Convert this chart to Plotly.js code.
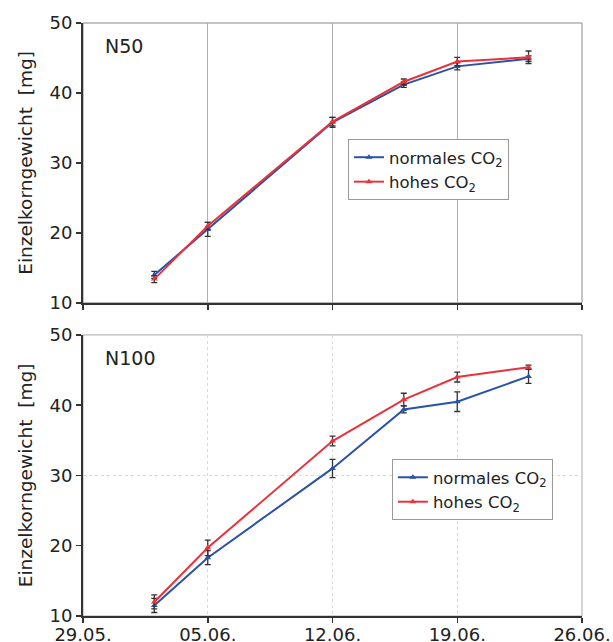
<!DOCTYPE html>
<html>
<head>
<meta charset="utf-8">
<script src="https://cdn.plot.ly/plotly-3.0.1.min.js"></script>
<style>html,body{margin:0;padding:0;background:#fff;}#chart{width:613px;height:642px;}</style>
</head>
<body>
<div id="chart"></div>
<script>
// Sampling dates
const dates = ['2010-06-02', '2010-06-05', '2010-06-12', '2010-06-16', '2010-06-19', '2010-06-23'];
const xTickVals = ['2010-05-29', '2010-06-05', '2010-06-12', '2010-06-19', '2010-06-26'];

// N50 panel
const n50Normal = [14.0, 20.5, 35.8, 41.2, 43.8, 44.9];
const n50NormalErr = [0.5, 1.0, 0.7, 0.4, 0.5, 0.4];
const n50High = [13.4, 21.0, 35.9, 41.6, 44.5, 45.1];
const n50HighErr = [0.5, 0.5, 0.6, 0.4, 0.6, 0.9];

// N100 panel
const n100Normal = [11.5, 18.3, 31.0, 39.4, 40.5, 44.1];
const n100NormalErr = [1.0, 1.0, 1.3, 0.5, 1.4, 1.0];
const n100High = [12.0, 19.7, 34.9, 40.8, 44.0, 45.4];
const n100HighErr = [1.0, 1.1, 0.7, 0.9, 0.7, 0.3];

const seriesNames = ['normales CO<sub>2</sub>', 'hohes CO<sub>2</sub>'];
const panelLabels = ['N50', 'N100'];
const yTitle = 'Einzelkorngewicht  [mg]';

const BLUE = '#2a52a6';
const RED = '#e8323c';
const FONT = 'DejaVu Sans, Verdana, sans-serif';

function tr(y, err, name, color, xa, ya, leg) {
  return {
    x: dates, y: y, name: name, type: 'scatter', mode: 'lines+markers',
    xaxis: xa, yaxis: ya, legend: leg,
    line: {color: color, width: 2},
    marker: {color: color, size: 6, symbol: 'triangle-up'},
    error_y: {type: 'data', array: err, visible: true, color: '#333', thickness: 1.3, width: 3},
    hoverinfo: 'skip'
  };
}

const data = [
  tr(n50Normal, n50NormalErr, seriesNames[0], BLUE, 'x', 'y', 'legend'),
  tr(n50High, n50HighErr, seriesNames[1], RED, 'x', 'y', 'legend'),
  tr(n100Normal, n100NormalErr, seriesNames[0], BLUE, 'x2', 'y2', 'legend2'),
  tr(n100High, n100HighErr, seriesNames[1], RED, 'x2', 'y2', 'legend2')
];

const xBase = {
  type: 'date', range: [xTickVals[0], xTickVals[xTickVals.length - 1]],
  tickvals: xTickVals, tickformat: '%d.%m.',
  showline: true, linecolor: '#333', linewidth: 2,
  ticks: 'outside', ticklen: 5, tickwidth: 1.5, tickcolor: '#333',
  tickfont: {family: FONT, size: 18, color: '#222'},
  zeroline: false, fixedrange: true
};
const yBase = {
  range: [10, 50], tickvals: [10, 20, 30, 40, 50],
  showline: true, linecolor: '#333', linewidth: 2,
  ticks: 'outside', ticklen: 5, tickwidth: 1.5, tickcolor: '#333',
  tickfont: {family: FONT, size: 18, color: '#222'},
  showgrid: false, zeroline: false, fixedrange: true,
  title: {text: yTitle, font: {family: FONT, size: 18.5, color: '#222'}, standoff: 12}
};

const legBase = {
  xanchor: 'left', yanchor: 'top', xref: 'paper', yref: 'paper',
  bgcolor: '#fff', bordercolor: '#999', borderwidth: 1,
  font: {family: FONT, size: 16.5, color: '#222'}, tracegroupgap: 0, itemwidth: 30
};

const layout = {
  width: 613, height: 642,
  margin: {l: 83, r: 31, t: 23, b: 26},
  paper_bgcolor: '#fff', plot_bgcolor: '#fff',
  font: {family: FONT, color: '#222'},
  showlegend: true,
  xaxis: Object.assign({}, xBase, {domain: [0, 1], anchor: 'y', showticklabels: false,
    showgrid: true, gridcolor: '#b0b0b0', gridwidth: 1}),
  yaxis: Object.assign({}, yBase, {domain: [0.528, 1], anchor: 'x'}),
  xaxis2: Object.assign({}, xBase, {domain: [0, 1], anchor: 'y2', showticklabels: true,
    ticklabelstandoff: -4,
    showgrid: true, gridcolor: '#d8d8d8', gridwidth: 1, griddash: 'dot'}),
  yaxis2: Object.assign({}, yBase, {domain: [0, 0.474], anchor: 'x2'}),
  legend: Object.assign({}, legBase, {x: 0.531, y: 0.8044}),
  legend2: Object.assign({}, legBase, {x: 0.619, y: 0.2647}),
  shapes: [
    {type: 'rect', xref: 'x domain', yref: 'y domain', x0: 0, x1: 1, y0: 0, y1: 1,
      line: {color: '#888', width: 1}, layer: 'below'},
    {type: 'rect', xref: 'x2 domain', yref: 'y2 domain', x0: 0, x1: 1, y0: 0, y1: 1,
      line: {color: '#aaa', width: 1}, layer: 'below'},
    {type: 'line', xref: 'x2 domain', yref: 'y2', x0: 0, x1: 1, y0: 30, y1: 30,
      line: {color: '#d8d8d8', width: 1, dash: 'dot'}, layer: 'below'}
  ],
  annotations: [
    {text: panelLabels[0], xref: 'x domain', yref: 'y domain', x: 0.04, y: 0.965, xanchor: 'left', yanchor: 'top',
      showarrow: false, font: {family: FONT, size: 19, color: '#222'}},
    {text: panelLabels[1], xref: 'x2 domain', yref: 'y2 domain', x: 0.04, y: 0.965, xanchor: 'left', yanchor: 'top',
      showarrow: false, font: {family: FONT, size: 19, color: '#222'}}
  ]
};

Plotly.newPlot('chart', data, layout, {displayModeBar: false, staticPlot: true});
</script>
</body>
</html>
